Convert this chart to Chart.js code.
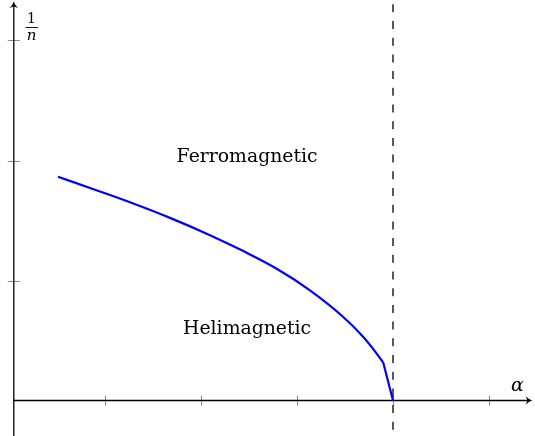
<!DOCTYPE html>
<html>
<head>
<meta charset="utf-8">
<script src="https://cdn.jsdelivr.net/npm/chart.js@4/dist/chart.umd.min.js"></script>
<style>
html,body{margin:0;padding:0;background:#fff;}
#wrap{width:535px;height:436px;position:relative;}
</style>
</head>
<body>
<div id="wrap"><canvas id="c"></canvas></div>
<script>
// Phase boundary (alpha, 1/n): smooth part, then the steep final segment
const boundaryAlpha = [0.51, 0.948, 1.26, 1.677, 2.094, 2.441, 2.789, 3.135, 3.482, 3.691, 3.83, 3.899];
const boundaryInvN  = [1.865, 1.742, 1.652, 1.522, 1.378, 1.245, 1.098, 0.918, 0.696, 0.529, 0.391, 0.314];
const finalAlpha = [3.899, 4.0];
const finalInvN  = [0.314, 0.0];
const xTickValues = [1, 2, 3, 4, 5];
const yTickValues = [1, 2, 3];
const criticalAlpha = [4];
const regionLabels = ['Ferromagnetic', 'Helimagnetic'];
const regionLabelPos = [[2.48, 1.99], [2.48, 0.555]]; // data coords (center x, baseline y)
const axisLabels = ['α', '1', 'n'];

const xMin = -0.09375, xMax = (535 - 9) / 96;
const yMax = 400.5 / 120, yMin = -35.5 / 120;

const points = boundaryAlpha.map((a, i) => ({x: a, y: boundaryInvN[i]}));
const finalPoints = finalAlpha.map((a, i) => ({x: a, y: finalInvN[i]}));

function arrow(ctx, x, y, dir) {
  ctx.save();
  ctx.translate(x, y);
  if (dir === 'up') ctx.rotate(-Math.PI / 2);
  ctx.fillStyle = '#000';
  ctx.beginPath();
  ctx.moveTo(0.5, 0);
  ctx.quadraticCurveTo(-3, -1, -6, -4.2);
  ctx.lineTo(-4.2, 0);
  ctx.lineTo(-6, 4.2);
  ctx.quadraticCurveTo(-3, 1, 0.5, 0);
  ctx.closePath();
  ctx.fill();
  ctx.restore();
}

const SERIF = '"DejaVu Serif", "Liberation Serif", serif';

const axesPlugin = {
  id: 'axesPlugin',
  beforeDatasetsDraw(chart) {
    const ctx = chart.ctx;
    const xs = chart.scales.x, ys = chart.scales.y;
    const X = v => xs.getPixelForValue(v), Y = v => ys.getPixelForValue(v);
    const ox = X(0.05), oy = Y(0);
    ctx.save();
    // ticks
    ctx.strokeStyle = '#8a8a8a';
    ctx.lineWidth = 1;
    xTickValues.forEach(v => {
      const px = Math.round(X(v)) + 0.5;
      ctx.beginPath(); ctx.moveTo(px, oy - 5); ctx.lineTo(px, oy + 5); ctx.stroke();
    });
    yTickValues.forEach(v => {
      const py = Math.round(Y(v)) + 0.5;
      ctx.beginPath(); ctx.moveTo(ox - 6, py); ctx.lineTo(ox + 6, py); ctx.stroke();
    });
    // axes
    ctx.strokeStyle = '#000';
    ctx.lineWidth = 1.3;
    ctx.beginPath(); ctx.moveTo(ox, Y(yMin)); ctx.lineTo(ox, Y(3.32) + 3); ctx.stroke();
    ctx.beginPath(); ctx.moveTo(X(0.05), oy); ctx.lineTo(X(5.445) - 3, oy); ctx.stroke();
    arrow(ctx, X(5.445), oy, 'right');
    arrow(ctx, ox, Y(3.32), 'up');
    // dashed critical line
    ctx.setLineDash([8, 8.7]);
    ctx.lineDashOffset = 12.4;
    ctx.lineWidth = 1.3;
    criticalAlpha.forEach(v => {
      ctx.beginPath(); ctx.moveTo(X(v), Y(yMax)); ctx.lineTo(X(v), Y(yMin)); ctx.stroke();
    });
    ctx.setLineDash([]);
    // region labels (size fitted so "Ferromagnetic" spans ~141px)
    ctx.fillStyle = '#000';
    ctx.textAlign = 'center';
    ctx.textBaseline = 'alphabetic';
    ctx.font = '20px ' + SERIF;
    const w = ctx.measureText(regionLabels[0]).width;
    const fs = 20 * 141 / w;
    ctx.font = fs.toFixed(2) + 'px ' + SERIF;
    regionLabels.forEach((t, i) => {
      ctx.fillText(t, X(regionLabelPos[i][0]), Y(regionLabelPos[i][1]));
    });
    // axis labels
    ctx.font = 'italic 19px ' + SERIF;
    ctx.fillText(axisLabels[0], 517.5, 391);
    ctx.font = '14px ' + SERIF;
    ctx.fillText(axisLabels[1], 31.5, 23);
    ctx.font = 'italic 15px ' + SERIF;
    ctx.fillText(axisLabels[2], 31.5, 39.5);
    ctx.lineWidth = 0.9;
    ctx.beginPath(); ctx.moveTo(25.5, 27.5); ctx.lineTo(38, 27.5); ctx.stroke();
    ctx.restore();
  }
};

new Chart(document.getElementById('c'), {
  type: 'scatter',
  data: {
    datasets: [{
      data: points,
      showLine: true,
      borderColor: '#0000ff',
      borderWidth: 2.2,
      pointRadius: 0,
      cubicInterpolationMode: 'monotone',
      fill: false
    }, {
      data: finalPoints,
      showLine: true,
      borderColor: '#0000ff',
      borderWidth: 2.2,
      pointRadius: 0,
      tension: 0,
      fill: false
    }]
  },
  options: {
    responsive: true,
    maintainAspectRatio: false,
    animation: false,
    layout: {padding: 0},
    plugins: {legend: {display: false}, tooltip: {enabled: false}},
    scales: {
      x: {type: 'linear', min: xMin, max: xMax, display: false},
      y: {type: 'linear', min: yMin, max: yMax, display: false}
    }
  },
  plugins: [axesPlugin]
});
</script>
</body>
</html>
